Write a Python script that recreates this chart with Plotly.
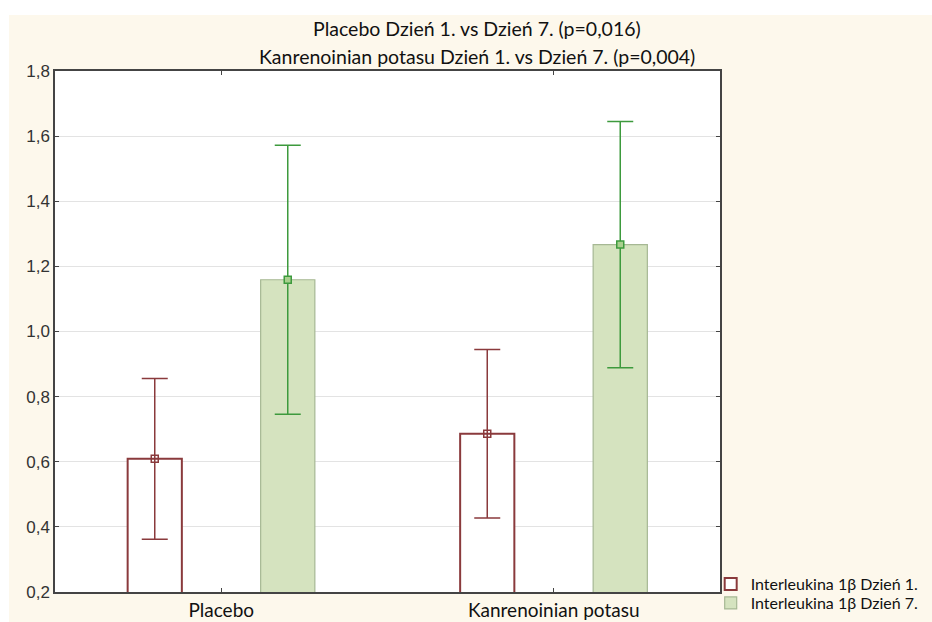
import plotly.graph_objects as go

# Group positions on a numeric axis, labelled with category names
groups = ["Placebo", "Kanrenoinian potasu"]
group_pos = [0, 1]

series_names = ["Interleukina 1β Dzień 1.", "Interleukina 1β Dzień 7."]
day1_mean = [0.609, 0.686]
day1_err = [0.247, 0.259]
day7_mean = [1.159, 1.267]
day7_err = [0.413, 0.378]

y_ticks = [0.2, 0.4, 0.6, 0.8, 1.0, 1.2, 1.4, 1.6, 1.8]
y_ticktext = ["0,2", "0,4", "0,6", "0,8", "1,0", "1,2", "1,4", "1,6", "1,8"]

title_lines = [
    "Placebo Dzień 1. vs Dzień 7. (p=0,016)",
    "Kanrenoinian potasu Dzień 1. vs Dzień 7. (p=0,004)",
]

shift = 0.2
bar_w = 0.163
x_day1 = [p - shift for p in group_pos]
x_day7 = [p + shift for p in group_pos]

RED = "#8a3a3c"
GREEN = "#3d9a3d"
GREEN_FILL = "#d5e3bf"
GREEN_EDGE = "#a6b894"
CREAM = "#fdf8ec"
TEXT_FONT = "Lato"

fig = go.Figure()

fig.add_trace(go.Bar(
    x=x_day1, y=day1_mean, width=bar_w, base=0,
    name=series_names[0], legend="legend",
    marker=dict(color="white", line=dict(color=RED, width=2)),
))
fig.add_trace(go.Bar(
    x=x_day7, y=day7_mean, width=bar_w, base=0,
    name=series_names[1], legend="legend2",
    marker=dict(color=GREEN_FILL, line=dict(color=GREEN_EDGE, width=1.2)),
))

# Means with error whiskers
fig.add_trace(go.Scatter(
    x=x_day1, y=day1_mean, mode="markers",
    marker=dict(symbol="square", size=7, color="rgba(255,255,255,0)",
                line=dict(color=RED, width=1.5)),
    error_y=dict(type="data", array=day1_err, color=RED, thickness=1.5, width=13),
    showlegend=False, hoverinfo="skip",
))
fig.add_trace(go.Scatter(
    x=x_day7, y=day7_mean, mode="markers",
    marker=dict(symbol="square", size=7, color="#a9d08e",
                line=dict(color=GREEN, width=1.5)),
    error_y=dict(type="data", array=day7_err, color=GREEN, thickness=1.5, width=13),
    showlegend=False, hoverinfo="skip",
))

# Two-line title
for txt, yy in zip(title_lines, [1.0825, 1.0269]):
    fig.add_annotation(
        text=txt, xref="paper", yref="paper", x=0.6346, y=yy,
        xanchor="center", yanchor="middle", showarrow=False,
        font=dict(family=TEXT_FONT, size=19.5, color="#111111"),
    )

# White margin strips along the top and left edges of the page
fig.add_shape(type="rect", xref="paper", yref="paper",
              x0=-0.1, x1=1.4, y0=1.1075, y1=1.2,
              fillcolor="white", line_width=0, layer="below")
fig.add_shape(type="rect", xref="paper", yref="paper",
              x0=-0.1, x1=-0.0692, y0=-0.1, y1=1.2,
              fillcolor="white", line_width=0, layer="below")

legend_style = dict(
    xanchor="left", yanchor="middle",
    bgcolor="rgba(0,0,0,0)", font=dict(family=TEXT_FONT, size=16, color="#111111"),
    itemwidth=30, tracegroupgap=0,
)

fig.update_layout(
    width=932, height=622,
    margin=dict(l=55, r=212, t=71, b=30, autoexpand=False),
    paper_bgcolor=CREAM,
    plot_bgcolor="white",
    barmode="overlay",
    font=dict(family=TEXT_FONT, color="#111111"),
    legend=dict(x=0.986, y=0.0154, **legend_style),
    legend2=dict(x=0.986, y=-0.0211, **legend_style),
    xaxis=dict(
        range=[-0.5, 1.5], tickvals=group_pos, ticktext=groups,
        showgrid=False, zeroline=False,
        showline=True, linecolor="#444444", linewidth=1.5, mirror="ticks",
        ticks="inside", ticklen=4, tickcolor="#444444",
        tickfont=dict(family=TEXT_FONT, size=19, color="#111111"),
    ),
    yaxis=dict(
        range=[0.2, 1.8], tickvals=y_ticks, ticktext=y_ticktext,
        showgrid=True, gridcolor="#e3e3e3", gridwidth=1.2, zeroline=False,
        showline=True, linecolor="#444444", linewidth=1.5, mirror="ticks",
        ticks="inside", ticklen=4, tickcolor="#444444",
        tickfont=dict(family="Liberation Sans", size=17, color="#333333"),
    ),
)

fig.write_html("out.html")
